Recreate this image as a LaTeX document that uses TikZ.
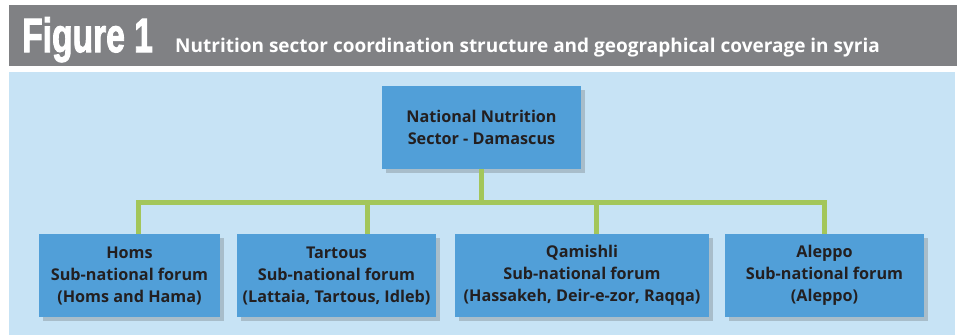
\documentclass[tikz,border=0pt]{standalone}
\usepackage{fontspec}
\setmainfont{Open Sans}
\newfontfamily\titlefont{Liberation Sans}[UprightFont={* Bold}, FakeBold=2.5]
\usetikzlibrary{shadows,calc}
\definecolor{banner}{HTML}{808184}
\definecolor{bgblue}{HTML}{C7E3F5}
\definecolor{boxblue}{HTML}{519FD8}
\definecolor{linkgreen}{HTML}{A3C65A}
\definecolor{txt}{HTML}{231F20}
\begin{document}
\begin{tikzpicture}[x=1pt,y=-1pt,
  box/.style={fill=boxblue, text=txt, align=center, inner sep=0pt,
    minimum height=83pt,
    font=\bfseries\fontsize{16.2}{22}\selectfont,
    drop shadow={shadow xshift=4pt, shadow yshift=-4pt, opacity=0.25, fill=black!70}},
  conn/.style={draw=linkgreen, line width=5pt}]
\useasboundingbox (0,0) rectangle (957,335);
\fill[white] (0,0) rectangle (957,335);
\fill[banner] (9,5) rectangle (957,66);
\fill[bgblue] (9,72) rectangle (955,335);
\node[anchor=base west, text=white, inner sep=0pt] (fig) at (22,52)
  {\scalebox{0.7}[1]{\titlefont\fontsize{48}{48}\selectfont Figure 1}};
\node[anchor=base west, text=white, inner sep=0pt] (sub) at (175,52)
  {\bfseries\fontsize{19}{20}\selectfont Nutrition sector coordination structure and geographical coverage in syria};
\node[box, minimum width=199pt] (top) at (481.5,127.5) {National Nutrition\\Sector - Damascus};
\node[box, minimum width=181pt] (b1) at (129.5,275.5) {Homs\\Sub-national forum\\(Homs and Hama)};
\node[box, minimum width=199pt] (b2) at (336.5,275.5) {Tartous\\Sub-national forum\\(Lattaia, Tartous, Idleb)};
\node[box, minimum width=254pt] (b3) at (582,275.5) {Qamishli\\Sub-national forum\\(Hassakeh, Deir-e-zor, Raqqa)};
\node[box, minimum width=199pt] (b4) at (824.5,275.5) {Aleppo\\Sub-national forum\\(Aleppo)};
\coordinate (bar) at (482,202);
\draw[conn] (top.south) -- (top.south |- bar);
\draw[conn] ([xshift=8.5pt]b1.north) |- ([xshift=-0.5pt]b4.north |- bar) -- ([xshift=-0.5pt]b4.north);
\draw[conn] ([xshift=30.5pt]b2.north) -- ([xshift=30.5pt]b2.north |- bar);
\draw[conn] ([xshift=14pt]b3.north) -- ([xshift=14pt]b3.north |- bar);
\end{tikzpicture}
\end{document}
